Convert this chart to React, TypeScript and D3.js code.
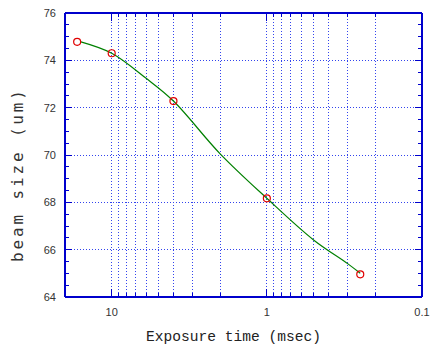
import React from "react";
import * as d3 from "d3";

const exposureMs = [16.7, 10, 4, 1, 0.25];
const beamSize = [74.78, 74.3, 72.28, 68.17, 64.96];
const fitExposureMs = [15.8, 10, 6, 4, 2, 1, 0.5, 0.3, 0.25];
const fitBeamSize = [74.78, 74.3, 73.24, 72.28, 70.05, 68.17, 66.41, 65.4, 65.0];
const xTickLabels = [10, 1, 0.1];
const yTickLabels = [64, 66, 68, 70, 72, 74, 76];

const W = 432, H = 345;
const L = 65, R = 422, T = 13, B = 297;

export default function App() {
  const x = d3.scaleLog().domain([20, 0.1]).range([L, R]);
  const y = d3.scaleLinear().domain([64, 76]).range([B, T]);

  const minorX: number[] = [];
  for (const dec of [1, 0.1]) for (let k = 2; k <= 9; k++) minorX.push(+(k * dec).toFixed(3));
  const majorX = [10, 1];
  const minorY = d3.range(64.5, 76, 0.5).filter((v) => Math.abs(v % 2) > 0.01);
  const gridY = [66, 68, 70, 72, 74];

  const line = d3
    .line<number>()
    .x((_, i) => x(fitExposureMs[i]))
    .y((d) => y(d))
    .curve(d3.curveCatmullRom.alpha(0.5));

  const frame = "#0000cc";
  const grid = "#3344ee";
  const allX = [...majorX, ...minorX];

  return (
    <svg width={W} height={H} style={{ position: "absolute", left: 0, top: 0, background: "#fff" }}>
      {gridY.map((v) => (
        <line key={"gy" + v} x1={L} x2={R} y1={y(v)} y2={y(v)} stroke={grid} strokeWidth={1} strokeDasharray="1,2" shapeRendering="crispEdges" />
      ))}
      {allX.map((v) => (
        <line key={"gx" + v} x1={x(v)} x2={x(v)} y1={T} y2={B} stroke={grid} strokeWidth={1} strokeDasharray="1,2" shapeRendering="crispEdges" />
      ))}
      {minorY.map((v) => (
        <g key={"my" + v}>
          <line x1={L} x2={L + 4} y1={y(v)} y2={y(v)} stroke={frame} shapeRendering="crispEdges" />
          <line x1={R - 4} x2={R} y1={y(v)} y2={y(v)} stroke={frame} shapeRendering="crispEdges" />
        </g>
      ))}
      {gridY.map((v) => (
        <g key={"My" + v}>
          <line x1={L} x2={L + 7} y1={y(v)} y2={y(v)} stroke={frame} shapeRendering="crispEdges" />
          <line x1={R - 7} x2={R} y1={y(v)} y2={y(v)} stroke={frame} shapeRendering="crispEdges" />
        </g>
      ))}
      {minorX.map((v) => (
        <g key={"mx" + v}>
          <line x1={x(v)} x2={x(v)} y1={B} y2={B - 4} stroke={frame} shapeRendering="crispEdges" />
          <line x1={x(v)} x2={x(v)} y1={T} y2={T + 4} stroke={frame} shapeRendering="crispEdges" />
        </g>
      ))}
      {majorX.map((v) => (
        <g key={"Mx" + v}>
          <line x1={x(v)} x2={x(v)} y1={B} y2={B - 8} stroke={frame} shapeRendering="crispEdges" />
          <line x1={x(v)} x2={x(v)} y1={T} y2={T + 8} stroke={frame} shapeRendering="crispEdges" />
        </g>
      ))}
      <line x1={L} x2={R} y1={T} y2={T} stroke={frame} strokeWidth={1.5} shapeRendering="crispEdges" />
      <line x1={L} x2={R} y1={B} y2={B} stroke={frame} strokeWidth={1.5} shapeRendering="crispEdges" />
      <line x1={L} x2={L} y1={T} y2={B} stroke={frame} strokeWidth={1.5} shapeRendering="crispEdges" />
      <line x1={R} x2={R} y1={T} y2={B} stroke={frame} strokeWidth={1.5} shapeRendering="crispEdges" />
      <path d={line(fitBeamSize) || ""} fill="none" stroke="#008000" strokeWidth={1.2} />
      {exposureMs.map((v, i) => (
        <circle key={"p" + i} cx={x(v)} cy={y(beamSize[i])} r={3.5} fill="none" stroke="#e00000" strokeWidth={1.2} />
      ))}
      {yTickLabels.map((v) => (
        <text key={"ly" + v} x={L - 9} y={y(v)} dy="0.35em" textAnchor="end" fontFamily="Liberation Sans, Arial, sans-serif" fontSize={11} fill="#333">
          {v}
        </text>
      ))}
      {xTickLabels.map((v) => (
        <text key={"lx" + v} x={x(v)} y={B + 19} textAnchor="middle" fontFamily="Liberation Sans, Arial, sans-serif" fontSize={11} fill="#333">
          {v}
        </text>
      ))}
      <text x={L + (R - L) / 2 - 10} y={341} textAnchor="middle" fontFamily="Liberation Mono, Courier New, monospace" fontSize={14} fill="#222" textLength={175} lengthAdjust="spacingAndGlyphs">
        Exposure time (msec)
      </text>
      <text transform={`translate(23,${(90 + 262) / 2}) rotate(-90)`} textAnchor="middle" fontFamily="DejaVu Sans Mono, monospace" fontSize={16} fill="#333" textLength={172} lengthAdjust="spacing">
        beam size (um)
      </text>
    </svg>
  );
}
